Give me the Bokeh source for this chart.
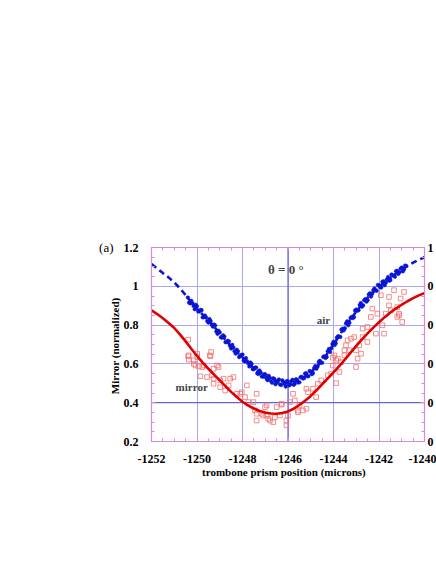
from bokeh.plotting import figure
from bokeh.models import Range1d, LinearAxis, SingleIntervalTicker, FixedTicker, Span, Label
from bokeh.embed import file_html
from bokeh.resources import INLINE

# ---------------- data ----------------
x_ticks = [-1252, -1250, -1248, -1246, -1244, -1242, -1240]
x_tick_labels = ["-1252", "-1250", "-1248", "-1246", "-1244", "-1242", "-1240"]
y_ticks = [0.2, 0.4, 0.6, 0.8, 1.0, 1.2]
right_ticks = [0.0, 0.2, 0.4, 0.6, 0.8, 1.0]
right_labels = ["0", "0", "0", "0", "0", "1"]
panel_tag = "(a)"

fit_x = [-1252.0, -1251.75, -1251.5, -1251.25, -1251.0, -1250.75, -1250.5, -1250.25,
         -1250.0, -1249.75, -1249.5, -1249.25, -1249.0, -1248.75, -1248.5, -1248.25,
         -1248.0, -1247.75, -1247.5, -1247.25, -1247.0, -1246.75, -1246.5, -1246.25,
         -1246.0, -1245.75, -1245.5, -1245.25, -1245.0, -1244.75, -1244.5, -1244.25,
         -1244.0, -1243.75, -1243.5, -1243.25, -1243.0, -1242.75, -1242.5, -1242.25,
         -1242.0, -1241.75, -1241.5, -1241.25, -1241.0, -1240.75, -1240.5, -1240.25,
         -1240.0]

air_fit = [1.115, 1.092, 1.068, 1.046, 1.020, 0.990, 0.955, 0.917,
           0.884, 0.854, 0.824, 0.792, 0.758, 0.724, 0.690, 0.661,
           0.633, 0.605, 0.578, 0.555, 0.534, 0.519, 0.508, 0.502,
           0.499, 0.505, 0.518, 0.536, 0.557, 0.585, 0.615, 0.657,
           0.700, 0.745, 0.790, 0.830, 0.870, 0.906, 0.941, 0.971,
           0.998, 1.021, 1.043, 1.066, 1.088, 1.105, 1.122, 1.137,
           1.150]

mirror_fit = [0.876, 0.857, 0.835, 0.811, 0.785, 0.752, 0.716, 0.678,
              0.641, 0.607, 0.575, 0.545, 0.515, 0.485, 0.456, 0.429,
              0.405, 0.385, 0.370, 0.357, 0.349, 0.344, 0.343, 0.347,
              0.355, 0.369, 0.388, 0.410, 0.435, 0.464, 0.495, 0.525,
              0.556, 0.588, 0.622, 0.658, 0.693, 0.726, 0.757, 0.787,
              0.815, 0.841, 0.865, 0.886, 0.905, 0.923, 0.939, 0.953,
              0.965]

air_x = [
    -1250.4, -1250.3, -1250.2, -1250.1, -1250.0, -1249.9, -1249.8, -1249.7, -1249.6, -1249.5,
    -1249.4, -1249.3, -1249.2, -1249.1, -1249.0, -1248.9, -1248.8, -1248.7, -1248.6, -1248.5,
    -1248.4, -1248.3, -1248.2, -1248.1, -1248.0, -1247.9, -1247.8, -1247.7, -1247.6, -1247.5,
    -1247.4, -1247.3, -1247.2, -1247.1, -1247.0, -1246.9, -1246.8, -1246.7, -1246.6, -1246.5,
    -1246.4, -1246.3, -1246.2, -1246.1, -1246.0, -1245.9, -1245.8, -1245.7, -1245.6, -1245.5,
    -1245.4, -1245.3, -1245.2, -1245.1, -1245.0, -1244.9, -1244.8, -1244.7, -1244.6, -1244.5,
    -1244.4, -1244.3, -1244.2, -1244.1, -1244.0, -1243.9, -1243.8, -1243.7, -1243.6, -1243.5,
    -1243.4, -1243.3, -1243.2, -1243.1, -1243.0, -1242.9, -1242.8, -1242.7, -1242.6, -1242.5,
    -1242.4, -1242.3, -1242.2, -1242.1, -1242.0, -1241.9, -1241.8, -1241.7, -1241.6, -1241.5,
    -1241.4, -1241.3, -1241.2, -1241.1, -1241.0, -1240.9, -1240.8,
    -1250.35, -1250.25, -1250.15, -1250.05, -1249.95, -1249.85, -1249.75, -1249.65, -1249.55, -1249.45,
    -1249.35, -1249.25, -1249.15, -1249.05, -1248.95, -1248.85, -1248.75, -1248.65, -1248.55, -1248.45,
    -1248.35, -1248.25, -1248.15, -1248.05, -1247.95, -1247.85, -1247.75, -1247.65, -1247.55, -1247.45,
    -1247.35, -1247.25, -1247.15, -1247.05, -1246.95, -1246.85, -1246.75, -1246.65, -1246.55, -1246.45,
    -1246.35, -1246.25, -1246.15, -1246.05, -1245.95, -1245.85, -1245.75, -1245.65, -1245.55, -1245.45,
    -1245.35, -1245.25, -1245.15, -1245.05, -1244.95, -1244.85, -1244.75, -1244.65, -1244.55, -1244.45,
    -1244.35, -1244.25, -1244.15, -1244.05, -1243.95, -1243.85, -1243.75, -1243.65, -1243.55, -1243.45,
    -1243.35, -1243.25, -1243.15, -1243.05, -1242.95, -1242.85, -1242.75, -1242.65, -1242.55, -1242.45,
    -1242.35, -1242.25, -1242.15, -1242.05, -1241.95, -1241.85, -1241.75, -1241.65, -1241.55, -1241.45,
    -1241.35, -1241.25, -1241.15, -1241.05, -1240.95, -1240.85,
]
air_y = [
    0.942, 0.912, 0.913, 0.882, 0.897, 0.870, 0.877, 0.841, 0.839, 0.813,
    0.821, 0.792, 0.798, 0.755, 0.762, 0.735, 0.741, 0.713, 0.716, 0.679,
    0.684, 0.653, 0.665, 0.642, 0.648, 0.612, 0.614, 0.587, 0.600, 0.573,
    0.581, 0.548, 0.555, 0.534, 0.546, 0.516, 0.529, 0.503, 0.522, 0.504,
    0.520, 0.491, 0.507, 0.483, 0.509, 0.494, 0.518, 0.498, 0.518, 0.505,
    0.534, 0.526, 0.552, 0.537, 0.560, 0.553, 0.589, 0.586, 0.616, 0.606,
    0.639, 0.636, 0.677, 0.679, 0.714, 0.706, 0.742, 0.739, 0.781, 0.784,
    0.819, 0.812, 0.842, 0.841, 0.880, 0.877, 0.914, 0.902, 0.934, 0.928,
    0.964, 0.961, 0.989, 0.977, 1.005, 0.994, 1.026, 1.019, 1.048, 1.032,
    1.057, 1.049, 1.080, 1.072, 1.097, 1.088, 1.104,
    0.916, 0.925, 0.899, 0.905, 0.871, 0.878, 0.840, 0.849, 0.821, 0.831,
    0.802, 0.803, 0.767, 0.771, 0.737, 0.747, 0.712, 0.719, 0.693, 0.698,
    0.665, 0.673, 0.635, 0.645, 0.618, 0.630, 0.603, 0.607, 0.573, 0.581,
    0.551, 0.566, 0.535, 0.547, 0.526, 0.539, 0.512, 0.526, 0.495, 0.513,
    0.494, 0.515, 0.497, 0.511, 0.489, 0.510, 0.492, 0.521, 0.504, 0.531,
    0.525, 0.550, 0.536, 0.563, 0.547, 0.579, 0.575, 0.610, 0.606, 0.636,
    0.630, 0.665, 0.661, 0.702, 0.697, 0.736, 0.741, 0.777, 0.773, 0.809,
    0.799, 0.836, 0.836, 0.875, 0.874, 0.904, 0.895, 0.928, 0.921, 0.958,
    0.947, 0.980, 0.978, 1.007, 0.995, 1.023, 1.006, 1.036, 1.029, 1.061,
    1.054, 1.078, 1.064, 1.091, 1.077, 1.107,
]

mirror_x = [
    -1250.39, -1250.36, -1250.36, -1250.14, -1249.99, -1250.07, -1249.77, -1249.38, -1249.44, -1249.05,
    -1249.27, -1249.85, -1249.56, -1249.34, -1249.27, -1248.98, -1248.54, -1248.40, -1248.61, -1248.98,
    -1248.76, -1248.25, -1248.03, -1247.81, -1247.89, -1250.39, -1249.99, -1249.41, -1250.14, -1249.92,
    -1249.70, -1249.12, -1249.27, -1248.83, -1247.38, -1248.10, -1247.74, -1247.45, -1247.16, -1246.94,
    -1247.38, -1246.79, -1246.65, -1247.52, -1247.01, -1246.28, -1245.78, -1245.70, -1245.49, -1245.34,
    -1245.56, -1245.12, -1244.90, -1244.76, -1244.69, -1244.54, -1244.25, -1244.10, -1243.88, -1244.03,
    -1243.96, -1243.81, -1243.67, -1243.74, -1243.52, -1243.45, -1243.38, -1246.87, -1246.58, -1246.36,
    -1246.07, -1245.92, -1246.07, -1247.09, -1243.01, -1242.94, -1243.52, -1243.30, -1243.23, -1243.09,
    -1243.01, -1242.87, -1242.79, -1242.72, -1242.51, -1242.51, -1242.72, -1242.36, -1242.29, -1242.07,
    -1242.14, -1241.85, -1241.92, -1241.56, -1241.48, -1241.34, -1241.20, -1241.12, -1240.98, -1241.05,
    -1240.90, -1245.19, -1243.88, -1244.03, -1241.78, -1241.70, -1241.56, -1241.20, -1241.12, -1247.38,
    -1246.50, -1246.28, -1245.56, -1245.19, -1246.94, -1246.00,
]
mirror_y = [
    0.725, 0.644, 0.622, 0.618, 0.635, 0.592, 0.584, 0.661, 0.644, 0.584,
    0.575, 0.536, 0.532, 0.541, 0.524, 0.515, 0.524, 0.532, 0.489, 0.480,
    0.463, 0.446, 0.454, 0.489, 0.429, 0.639, 0.653, 0.639, 0.600, 0.587,
    0.592, 0.592, 0.498, 0.524, 0.446, 0.446, 0.403, 0.360, 0.343, 0.386,
    0.308, 0.308, 0.300, 0.403, 0.377, 0.390, 0.446, 0.412, 0.386, 0.360,
    0.360, 0.454, 0.472, 0.429, 0.498, 0.515, 0.541, 0.550, 0.501, 0.592,
    0.644, 0.627, 0.609, 0.558, 0.670, 0.696, 0.721, 0.317, 0.325, 0.334,
    0.283, 0.403, 0.308, 0.334, 0.584, 0.627, 0.644, 0.670, 0.730, 0.738,
    0.670, 0.696, 0.653, 0.782, 0.790, 0.713, 0.738, 0.842, 0.885, 0.859,
    0.756, 0.799, 0.954, 0.945, 0.876, 0.980, 0.842, 0.859, 0.816, 0.937,
    0.971, 0.472, 0.618, 0.632, 0.756, 0.859, 0.902, 0.893, 0.850, 0.343,
    0.377, 0.395, 0.351, 0.369, 0.334, 0.334,
]

# ---------------- styles ----------------
SERIF = "Liberation Serif"
PINK = "#d88ad8"
GRID = "#a8a8f4"
DARK = "#6464d8"
BLUE = "#0a14d2"
RED = "#e00000"
SQ = "#f07070"

p = figure(width=436, height=556, output_backend="svg", toolbar_location=None,
           x_range=Range1d(-1252, -1240), y_range=Range1d(0.2, 1.2),
           min_border_left=151, min_border_right=10, min_border_top=247, min_border_bottom=115,
           background_fill_color="white", border_fill_color="white")
p.outline_line_color = PINK
p.outline_line_width = 1.2

p.extra_y_ranges = {"r": Range1d(0, 1)}

xt = SingleIntervalTicker(interval=2, num_minor_ticks=4)
yt = SingleIntervalTicker(interval=0.2, num_minor_ticks=4)
x_minor = [v / 2 for v in range(-2504, -2479)]
y_minor = [v / 20 for v in range(4, 25)]

def style_axis(ax):
    ax.axis_line_color = PINK
    ax.major_tick_line_color = PINK
    ax.minor_tick_line_color = PINK
    ax.major_tick_in = 4
    ax.major_tick_out = 0
    ax.minor_tick_in = 3
    ax.minor_tick_out = 0
    ax.major_label_text_font = SERIF
    ax.major_label_text_font_style = "bold"
    ax.major_label_text_font_size = "12px"
    ax.major_label_text_color = "black"
    ax.axis_label_text_font = SERIF
    ax.axis_label_text_font_style = "bold"
    ax.axis_label_text_font_size = "11px"
    ax.axis_label_text_color = "black"

xa = p.xaxis[0]
xa.ticker = FixedTicker(ticks=x_ticks, minor_ticks=x_minor)
xa.major_label_overrides = {t: s for t, s in zip(x_ticks, x_tick_labels)}
style_axis(xa)
xa.major_label_standoff = 13
xa.axis_label = "trombone  prism  position  (microns)"
xa.axis_label_standoff = 0

ya = p.yaxis[0]
ya.ticker = FixedTicker(ticks=y_ticks, minor_ticks=y_minor)
style_axis(ya)
ya.major_label_standoff = 13
ya.axis_label = "Mirror  (normalized)"
ya.axis_label_standoff = 0

# top: ticks only, no labels
top = LinearAxis(ticker=FixedTicker(ticks=[], minor_ticks=x_minor))
style_axis(top)
p.add_layout(top, "above")

# right axis (labels cut by the page edge in the original)
right = LinearAxis(y_range_name="r",
                   ticker=FixedTicker(ticks=right_ticks, minor_ticks=[v / 20 for v in range(0, 21)]),
                   major_label_overrides={t: s for t, s in zip(right_ticks, right_labels)})
style_axis(right)
right.major_label_standoff = 3
p.add_layout(right, "right")

# panel tag "(a)" drawn as a label-only axis left of the y axis
tag = LinearAxis(ticker=FixedTicker(ticks=[1.2]), major_label_overrides={1.2: panel_tag})
tag.axis_line_color = None
tag.major_tick_line_color = None
tag.minor_tick_line_color = None
tag.major_tick_in = 0
tag.major_tick_out = 0
tag.major_label_standoff = -8
tag.major_label_text_font = SERIF
tag.major_label_text_font_size = "13px"
tag.major_label_text_color = "black"
p.add_layout(tag, "left")

p.xgrid.ticker = xt
p.ygrid.ticker = yt
p.xgrid.grid_line_color = GRID
p.ygrid.grid_line_color = GRID
p.xgrid.grid_line_width = 1
p.ygrid.grid_line_width = 1

p.add_layout(Span(location=0.4, dimension="width", line_color=DARK, line_width=1.2, level="underlay"))
p.add_layout(Span(location=-1246, dimension="height", line_color=DARK, line_width=1.2, level="underlay"))

# data
p.scatter(mirror_x, mirror_y, marker="square", size=4.6, fill_color=None,
          line_color=SQ, line_width=0.8)
p.line(fit_x, mirror_fit, line_color=RED, line_width=2.6)
p.line(fit_x, air_fit, line_color=BLUE, line_width=2.6, line_dash="6 4")
p.scatter(air_x, air_y, marker="circle", size=3.6, fill_color=BLUE, line_color=BLUE, line_width=0.5)

# texts
p.add_layout(Label(x=-1246.88, y=1.088, text="θ = 0 °", text_font=SERIF, text_font_style="bold",
                   text_font_size="13px", text_baseline="middle", text_align="left"))
p.add_layout(Label(x=-1244.74, y=0.825, text="air", text_font=SERIF, text_font_style="bold",
                   text_font_size="11px", text_baseline="middle", text_align="left"))
p.add_layout(Label(x=-1250.94, y=0.479, text="mirror", text_font=SERIF, text_font_style="bold",
                   text_font_size="11px", text_baseline="middle", text_align="left"))

open("out.html", "w").write(file_html(p, INLINE))
